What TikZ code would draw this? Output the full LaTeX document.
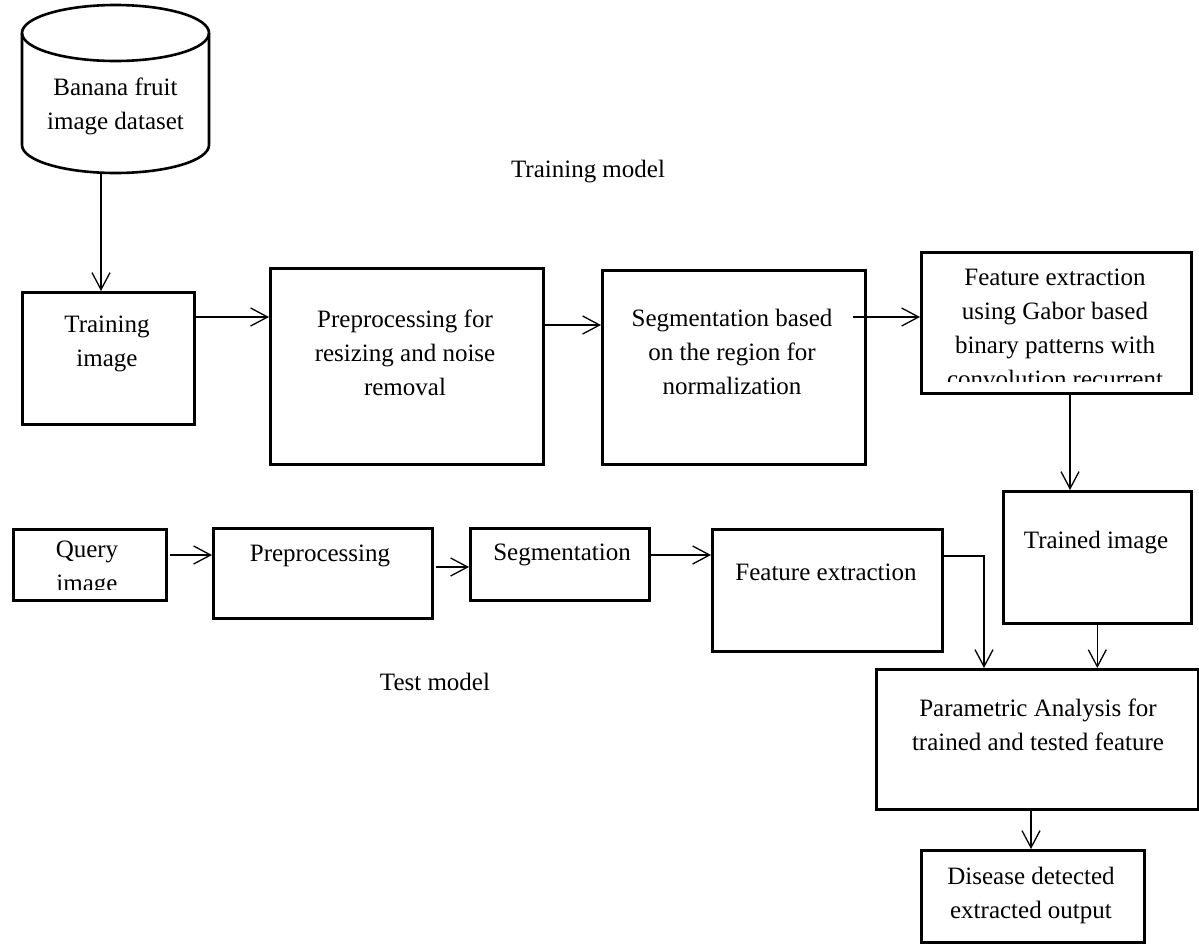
\documentclass[tikz,border=0pt]{standalone}
\usepackage{fontspec}
\setmainfont{Liberation Serif}
\usetikzlibrary{arrows.meta}
\begin{document}
\begin{tikzpicture}[x=1pt,y=-1pt,
  box/.style={draw, line width=2.6pt, inner sep=0pt, anchor=north west},
  lbl/.style={font=\fontsize{25}{34}\selectfont, align=center, inner sep=0pt},
  conn/.style={line width=1.3pt, -{Straight Barb[length=17pt,width=18pt,line width=1.3pt]}},
  plain/.style={line width=1.3pt}]
\useasboundingbox (0,0) rectangle (1199,943);

% database cylinder
\draw[line width=2.6pt] (115.5,33) ellipse [x radius=93.5, y radius=28];
\draw[line width=2.6pt] (22,33) -- (22,145) arc[start angle=180, end angle=0, x radius=93.5, y radius=28] -- (209,33);
\node[lbl] (db) at (115.5,106) {Banana fruit\\image dataset};
\coordinate (dbout) at (101,173);

% training row
\node[box, minimum width=172, minimum height=132] (train) at (21,291) {};
\node[lbl] (traint) at (107,344) {Training\\image};
\node[box, minimum width=273, minimum height=196] (pre) at (269,267) {};
\node[lbl] (pret) at (405,353) {Preprocessing for\\resizing and noise\\removal};
\node[box, minimum width=263, minimum height=194] (seg) at (601,269) {};
\node[lbl] (segt) at (732,352) {Segmentation based\\on the region for\\normalization};
\node[box, minimum width=270, minimum height=141] (feat) at (920,251) {};
\begin{scope}
  \clip (920,251) rectangle (1190,381);
  \node[lbl] (featt) at (1055,328) {Feature extraction\\using Gabor based\\binary patterns with\\convolution recurrent};
\end{scope}
\node[box, minimum width=188, minimum height=132] (trained) at (1002,490) {};
\node[lbl] (trainedt) at (1096,543) {Trained image};

\node[lbl] (trainlbl) at (588,172) {Training model};

% test row
\node[box, minimum width=153, minimum height=71] (query) at (12,528) {};
\begin{scope}
  \clip (12,528) rectangle (165,589);
  \node[lbl] (queryt) at (87,569) {Query\\image};
\end{scope}
\node[box, minimum width=219, minimum height=90] (pre2) at (212,527) {};
\node[lbl] (pre2t) at (320,556) {Preprocessing};
\node[box, minimum width=179, minimum height=72] (seg2) at (469,527) {};
\node[lbl] (seg2t) at (562,555) {Segmentation};
\node[box, minimum width=230, minimum height=122] (feat2) at (711,528) {};
\node[lbl] (feat2t) at (826,572) {Feature extraction};

\node[lbl] (testlbl) at (435,682) {Test model};

\node[box, minimum width=322, minimum height=140] (param) at (875,668) {};
\node[lbl] (paramt) at (1038,725) {Parametric Analysis for\\trained and tested feature};
\node[box, minimum width=223, minimum height=92] (dis) at (920,849) {};
\node[lbl] (dist) at (1031,895) {Disease detected\\extracted output};

% connectors
\draw[conn] (dbout) -- (dbout |- train.north);
\draw[conn] (train.east |- 0,317) -- (pre.west |- 0,317);
\draw[conn] (pre.east |- 0,325) -- (seg.west |- 0,325);
\coordinate (segout) at (853,317);
\draw[conn] (segout) -- (feat.west |- segout);
\draw[conn] (1070,0 |- feat.south) -- (1070,0 |- trained.north);

\coordinate (qout) at (170,555);
\draw[conn] (qout) -- (pre2.west |- qout);
\coordinate (p2out) at (436,567);
\draw[conn] (p2out) -- (seg2.west |- p2out);
\draw[conn] (seg2.east |- 0,555) -- (feat2.west |- 0,555);
\draw[conn] (feat2.east |- 0,556) -- (984,556) -- (984,0 |- param.north);
\draw[conn] (trained.south) -- (trained.south |- param.north);
\draw[conn] (1031,0 |- param.south) -- (1031,0 |- dis.north);
\end{tikzpicture}
\end{document}
